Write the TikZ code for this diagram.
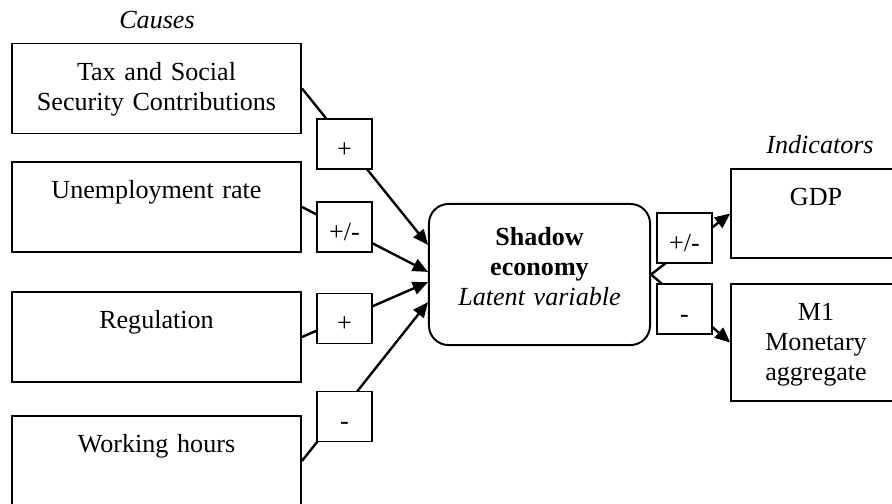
\documentclass[tikz,border=0pt]{standalone}
\usepackage{fontspec}
\setmainfont{Liberation Serif}
\usetikzlibrary{arrows.meta}
\tikzstyle{cause} = [rectangle, draw=black, text width=133pt, inner sep=0pt, align=center, text height=17pt, text depth=24.4pt]
\tikzstyle{indicator} = [rectangle, draw=black, text width=78pt, inner sep=0pt, align=center, text height=17pt, text depth=24pt]
\tikzstyle{latent} = [rectangle, rounded corners=9pt, draw=black, text width=101.7pt, inner sep=0pt, align=center, text height=19.3pt, text depth=45.6pt]
\tikzstyle{sign} = [rectangle, draw=black, fill=white, line width=0.8pt, text width=25.3pt, inner sep=0pt, align=center, text height=17.5pt, text depth=5.5pt]
\tikzstyle{arrow} = [line width=1.1pt,-{Triangle[length=7pt,width=6pt]}]
\tikzstyle{caption} = [font=\fontsize{12}{13.8}\selectfont\itshape]

\begin{document}
\begin{tikzpicture}[x=0.46pt, y=-0.46pt, line width=0.9pt, node distance=57pt, font=\fontsize{12}{13.8}\selectfont]
\useasboundingbox (0,0) rectangle (892,503);
\node (causes) [caption] at (157,20) {Causes};
\node (tax) [cause] at (156.5,88.5) {Tax and Social\\Security Contributions};
\node (unemp) [cause, below of=tax, yshift=2.5pt] {Unemployment rate};
\node (reg) [cause, below of=unemp, yshift=-2.8pt] {Regulation};
\node (work) [cause, below of=reg] {Working hours};

\node (shadow) [latent] at (539.5,274.5) {\textbf{Shadow}\\\textbf{economy}\\\textit{Latent variable}};

\node (indicators) [caption] at (820,145) {Indicators};
\node (gdp) [indicator] at (816,213.5) {GDP};
\node (m1) [indicator, text depth=36.8pt] at (816,342.5) {M1\\Monetary\\aggregate};

\draw[arrow] (tax.east) -- ([yshift=13.6pt]shadow.west);
\draw[arrow] (unemp.east) -- ([yshift=1.2pt]shadow.west);
\draw[arrow] (reg.east) -- ([yshift=-3.5pt]shadow.west);
\draw[arrow] (work.east) -- ([yshift=-12.7pt]shadow.west);
\draw[arrow] (shadow.east) -- (gdp.west);
\draw[arrow] (shadow.east) -- (m1.west);

% signs sit on top of the lines
\node (s1) [sign] at (344.5,144) {+};
\node (s2) [sign] at (344.5,227) {+/-};
\node (s3) [sign] at (344.5,318.5) {+};
\node (s4) [sign] at (344.5,416.5) {-};
\node (s5) [sign] at (684.5,238) {+/-};
\node (s6) [sign] at (684.5,309) {-};
\end{tikzpicture}
\end{document}
